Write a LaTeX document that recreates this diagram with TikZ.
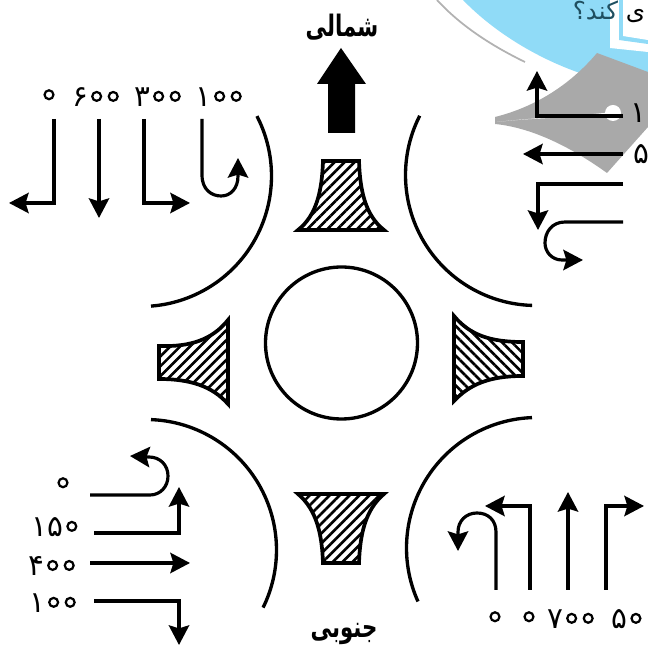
\documentclass[tikz,border=0pt]{standalone}
\usepackage{fontspec}
\usetikzlibrary{arrows.meta,patterns.meta}
\newfontfamily\arabicfont[Script=Arabic]{DejaVu Sans}
\newfontfamily\compassfont[Script=Arabic,FakeStretch=.72]{DejaVu Sans Bold}
\TeXXeTstate=1
\definecolor{skyblue}{HTML}{90DBF7}
\definecolor{wedgegray}{HTML}{A9A9A9}
\definecolor{titleink}{HTML}{1F4F60}
\definecolor{titlegray}{HTML}{555555}
% Persian zero, drawn as the small ring this figure prints
\newcommand\zr{\hbox to .56em{\hss\hbox to 0pt{\hss ۰\hss}\hss}\kern-.56em\hbox to .56em{\hss\tikz[baseline={(0,-.34em)}]\draw[line width=.075em,fill=white] (0,0) circle (.15em);\hss}}
\tikzset{
  road/.style={line width=.95pt,line join=miter},
  flow/.style={line width=.9pt,-{Stealth[length=5.6pt,width=5.8pt,inset=.9pt]}},
  island/.style={line width=1.05pt,line join=miter,pattern={Lines[angle=45,distance=2pt,line width=.75pt]}},
  islandb/.style={line width=1.05pt,line join=miter,pattern={Lines[angle=-45,distance=2pt,line width=.75pt]}},
  count/.style={font=\arabicfont\fontsize{8.4}{10}\selectfont,inner sep=0pt,anchor=center},
  compass/.style={font=\compassfont\fontsize{8.4}{11}\selectfont,inner sep=0pt},
}
\begin{document}
\begin{tikzpicture}[x=.01cm,y=-.01cm]
\useasboundingbox (0,0) rectangle (648,646);
% leftover background at the top right
\fill[skyblue] (463,0) .. controls (490,28) and (530,55) .. (577,72) -- (648,80) -- (648,0) -- cycle;
\fill[white] (610,0) -- (610,48) -- (648,52) -- (648,0) -- cycle;
\fill[skyblue] (619,0) -- (619,40) -- (648,44) -- (648,0) -- cycle;
\fill[white] (623,0) -- (623,36) -- (648,40) -- (648,0) -- cycle;
\draw[gray!60,line width=.5pt] (437,0) .. controls (460,25) and (490,45) .. (525,62);
\fill[wedgegray] (495,117) .. controls (535,107) and (570,85) .. (597,53) -- (648,72) -- (648,127) -- (607,173) .. controls (575,150) and (535,128) .. (495,124) -- cycle;
\fill[white] (497,122) .. controls (530,118) and (580,117) .. (613,115) -- (613,112) .. controls (580,116) and (530,118) .. (497,122) -- cycle;
\fill[white] (613,113) circle (8);
\node[font=\arabicfont\fontsize{7}{8}\selectfont,text=titleink,inner sep=0pt,anchor=north] (title) at (609,0) {\beginR{\color{titlegray}ی} کند؟\endR};
% roundabout
\foreach \cx/\cy/\a/\b in {141/176/-27.3/85.6, 536/175/91.7/207, 146/550/-87.8/26.2, 537/548/155.8/267.8}
  \draw[road] plot[domain=\a:\b,samples=40,smooth] ({\cx+130.5*cos(\x)},{\cy+130.5*sin(\x)});
\node[draw,circle,line width=.95pt,minimum size=152*.01cm,inner sep=0pt] (hub) at (341.5,343) {};
% splitter islands
\draw[island] (323,161) -- (359,161) .. controls (360,190) and (365,215) .. (384,230) -- (298,230) .. controls (317,215) and (322,190) .. (323,161) -- cycle;
\draw[island] (298,494) -- (384,494) .. controls (365,510) and (360,535) .. (359,563) -- (323,563) .. controls (322,535) and (317,510) .. (298,494) -- cycle;
\draw[island] (228,320) -- (228,404) .. controls (212,386) and (190,379) .. (159,379) -- (159,346) .. controls (190,347) and (212,340) .. (228,320) -- cycle;
\draw[islandb] (454,316) -- (454,401) .. controls (470,384) and (490,376) .. (523,376) -- (523,342) .. controls (490,342) and (470,335) .. (454,316) -- cycle;
% north arrow
\fill (341,48) -- (366,84) -- (355,84) -- (355,133) -- (328,133) -- (328,84) -- (317,84) -- cycle;
\node[compass] (north) at (342,27) {\beginR شمالی\endR};
\node[compass] (south) at (344,634) {\beginR جنوبی\endR};
% north-west approach
\node[count] (nw1) at (49,97) {\zr};
\node[count] (nw2) at (97,97) {۶\zr\zr};
\node[count] (nw3) at (159,97) {۳\zr\zr};
\node[count] (nw4) at (220,97) {۱\zr\zr};
\coordinate (a1s) at (54,119); \coordinate (a1m) at (54,203); \coordinate (a1e) at (9,203);
\coordinate (a2s) at (99,119); \coordinate (a2e) at (99,218);
\coordinate (a3s) at (144,119); \coordinate (a3m) at (144,203); \coordinate (a3e) at (190,203);
\coordinate (a4s) at (202,119); \coordinate (a4e) at (238,158);
\draw[flow] (a1s) -- (a1m) -- (a1e);
\draw[flow] (a2s) -- (a2e);
\draw[flow] (a3s) -- (a3m) -- (a3e);
\draw[flow] (a4s) -- (202,175) .. controls (202,190) and (212,196) .. (221,196) .. controls (231,196) and (238,188) .. (238,176) -- (a4e);
% east approach
\node[count,anchor=west] (e1) at (630,113) {۱\zr};
\node[count,anchor=west] (e2) at (633,154) {۵};
\coordinate (b1s) at (623,116); \coordinate (b1m) at (537,116); \coordinate (b1e) at (537,71);
\coordinate (b2s) at (623,154); \coordinate (b2e) at (523,154);
\coordinate (b3s) at (623,184); \coordinate (b3m) at (538,184); \coordinate (b3e) at (538,230);
\coordinate (b4s) at (623,222); \coordinate (b4e) at (583,260);
\draw[flow] (b1s) -- (b1m) -- (b1e);
\draw[flow] (b2s) -- (b2e);
\draw[flow] (b3s) -- (b3m) -- (b3e);
\draw[flow] (b4s) -- (565,222) .. controls (552,222) and (545,232) .. (545,243) .. controls (545,252) and (552,260) .. (562,260) -- (b4e);
% south-west approach
\node[count] (w1) at (63,485) {\zr};
\node[count] (w2) at (56,527) {۱۵\zr};
\node[count] (w3) at (53,566) {۴\zr\zr};
\node[count] (w4) at (54,603) {۱\zr\zr};
\coordinate (c1s) at (90,495); \coordinate (c1e) at (130,456);
\coordinate (c2s) at (94,533); \coordinate (c2m) at (179,533); \coordinate (c2e) at (179,487);
\coordinate (c3s) at (90,563); \coordinate (c3e) at (190,563);
\coordinate (c4s) at (94,601); \coordinate (c4m) at (179,601); \coordinate (c4e) at (179,645);
\draw[flow] (c1s) -- (150,495) .. controls (160,495) and (168,487) .. (168,476) .. controls (168,465) and (160,457) .. (149,457) -- (c1e);
\draw[flow] (c2s) -- (c2m) -- (c2e);
\draw[flow] (c3s) -- (c3e);
\draw[flow] (c4s) -- (c4m) -- (c4e);
% south-east approach
\node[count] (s1) at (495,619) {\zr};
\node[count] (s2) at (529,619) {\zr};
\node[count] (s3) at (572,619) {۷\zr\zr};
\node[count] (s4) at (628,619) {۵\zr};
\coordinate (d1s) at (496,590); \coordinate (d1e) at (458,551);
\coordinate (d2s) at (530,590); \coordinate (d2m) at (530,506); \coordinate (d2e) at (485,506);
\coordinate (d3s) at (568,590); \coordinate (d3e) at (568,492);
\coordinate (d4s) at (606,590); \coordinate (d4m) at (606,506); \coordinate (d4e) at (644,506);
\draw[flow] (d1s) -- (496,532) .. controls (496,520) and (488,513) .. (477,513) .. controls (466,513) and (458,521) .. (458,532) -- (d1e);
\draw[flow] (d2s) -- (d2m) -- (d2e);
\draw[flow] (d3s) -- (d3e);
\draw[flow] (d4s) -- (d4m) -- (d4e);
\end{tikzpicture}
\end{document}
